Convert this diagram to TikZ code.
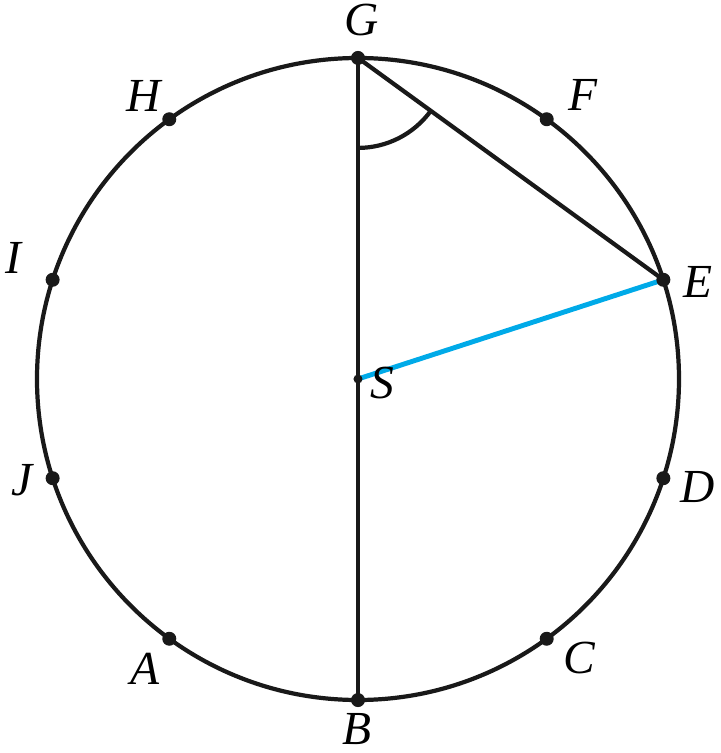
\documentclass[tikz,border=0pt]{standalone}
\usepackage{fontspec}
\setmainfont{Liberation Serif}
\usetikzlibrary{calc}
\definecolor{radblue}{RGB}{0,170,232}

\begin{document}
\begin{tikzpicture}[scale=0.02]
    \tikzstyle{every node}+=[inner sep=0pt]
    \tikzstyle{lab}=[font=\fontsize{27}{32}\selectfont\itshape]
    \tikzstyle{thick line}=[line width=2.4pt, black!90]
    \useasboundingbox (-358,-374) rectangle (362,379);
    \coordinate (S) at (0,0);
    \foreach \n/\a in {G/90,F/54,E/18,D/-18,C/-54,B/-90,A/-126,J/-162,I/162,H/126}
        \coordinate (\n) at (\a:321);
    \draw [thick line] (S) circle (321);
    \draw [thick line] (G) -- (B);
    \draw [thick line] (G) -- (E);
    \draw [thick line] ($(G)+(0,-90)$) arc [start angle=-90, end angle=-36, radius=90];
    \draw [line width=2.8pt, radblue] (S) -- (E);
    \foreach \n in {G,F,E,D,C,B,A,J,I,H}
        \fill [black!90] (\n) circle (7);
    \fill [black!90] (S) circle (4.5);
    \node [lab] (lG) at ($(G)+(4,38)$) {G};
    \node [lab] (lF) at ($(F)+(36,24)$) {F};
    \node [lab] (lE) at ($(E)+(35,-2)$) {E};
    \node [lab] (lD) at ($(D)+(34,-9)$) {D};
    \node [lab] (lC) at ($(C)+(33,-19)$) {C};
    \node [lab] (lB) at ($(B)+(-1,-29)$) {B};
    \node [lab] (lA) at ($(A)+(-24,-30)$) {A};
    \node [lab] (lJ) at ($(J)+(-31,-2)$) {J};
    \node [lab] (lI) at ($(I)+(-39,22)$) {I};
    \node [lab] (lH) at ($(H)+(-26,23)$) {H};
    \node [lab] (lS) at ($(S)+(24,-4)$) {S};
\end{tikzpicture}
\end{document}
